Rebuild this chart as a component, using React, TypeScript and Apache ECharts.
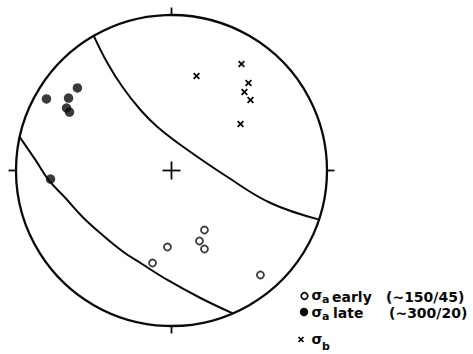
import React, { useEffect, useRef } from "react";
import * as echarts from "echarts";

// Stereonet coordinates: unit circle, x = east, y = north.
const sigmaEarly: [number, number][] = [
  [-0.122, -0.595],
  [-0.026, -0.492],
  [0.212, -0.383],
  [0.18, -0.453],
  [0.212, -0.505],
  [0.572, -0.672],
];

const sigmaLate: [number, number][] = [
  [-0.804, 0.46],
  [-0.662, 0.466],
  [-0.605, 0.531],
  [-0.675, 0.402],
  [-0.656, 0.376],
  [-0.778, -0.055],
];

const sigmaB: [number, number][] = [
  [0.161, 0.608],
  [0.45, 0.685],
  [0.495, 0.563],
  [0.469, 0.505],
  [0.508, 0.453],
  [0.444, 0.299],
];

// Traces of the two bounding circles across the net
const boundaryUpper: [number, number][] = [
  [-0.5, 0.866],
  [-0.412, 0.691],
  [-0.315, 0.537],
  [-0.199, 0.389],
  [-0.09, 0.28],
  [0.077, 0.151],
  [0.36, -0.042],
  [0.637, -0.209],
  [0.95, -0.316],
];

const boundaryLower: [number, number][] = [
  [-0.976, 0.215],
  [-0.875, 0.068],
  [-0.791, -0.061],
  [-0.682, -0.177],
  [-0.572, -0.299],
  [-0.444, -0.415],
  [-0.309, -0.524],
  [-0.199, -0.595],
  [-0.026, -0.704],
  [0.186, -0.82],
  [0.394, -0.919],
];

// Compass ticks (N, E, S, W) on the primitive circle
const tickDirections: [number, number][] = [
  [0, 1],
  [1, 0],
  [0, -1],
  [-1, 0],
];

const legendLabels = ["early", "late"];
const legendTrends = ["(~150/45)", "(~300/20)"];

const INK = "#0a0a0a";
const FONT = "DejaVu Sans";

export default function App() {
  const ref = useRef<HTMLDivElement>(null);

  useEffect(() => {
    const chart = echarts.init(ref.current!, null, { renderer: "svg" });

    const txt = (x: number, y: number, text: string, size: number) => ({
      type: "text",
      x,
      y,
      style: {
        text,
        fill: INK,
        font: `bold ${size}px "${FONT}"`,
        align: "left",
        verticalAlign: "middle",
      },
    });

    const legend: any[] = [
      // row 1: open circle
      {
        type: "circle",
        shape: { cx: 304.5, cy: 296, r: 3.3 },
        style: { fill: "#fff", stroke: INK, lineWidth: 1.7 },
      },
      txt(311.5, 294.5, "σ", 14),
      txt(322, 299.5, "a", 11),
      txt(332, 297, legendLabels[0], 14),
      txt(386, 297, legendTrends[0], 14),
      // row 2: filled circle
      {
        type: "circle",
        shape: { cx: 304, cy: 312, r: 4.2 },
        style: { fill: INK },
      },
      txt(311.5, 311.5, "σ", 14),
      txt(322, 316.5, "a", 11),
      txt(333, 313, legendLabels[1], 14),
      txt(389, 313, legendTrends[1], 14),
      // row 3: cross
      {
        type: "line",
        shape: { x1: 298.5, y1: 337, x2: 303.5, y2: 342 },
        style: { stroke: INK, lineWidth: 1.7 },
      },
      {
        type: "line",
        shape: { x1: 303.5, y1: 337, x2: 298.5, y2: 342 },
        style: { stroke: INK, lineWidth: 1.7 },
      },
      txt(311.5, 339, "σ", 14),
      txt(322, 346.5, "b", 11),
    ];

    chart.setOption({
      animation: false,
      backgroundColor: "#fff",
      grid: { left: 16, top: 15, width: 311, height: 311 },
      xAxis: { type: "value", min: -1, max: 1, show: false },
      yAxis: { type: "value", min: -1, max: 1, show: false },
      series: [
        {
          type: "custom",
          name: "net",
          coordinateSystem: "cartesian2d",
          clip: false,
          silent: true,
          data: [[0, 0]],
          renderItem: (_params: any, api: any) => {
            const c = api.coord([0, 0]);
            const r = api.coord([1, 0])[0] - c[0];
            const children: any[] = [
              {
                type: "circle",
                shape: { cx: c[0], cy: c[1], r },
                style: { fill: "none", stroke: INK, lineWidth: 2.3 },
              },
            ];
            tickDirections.forEach(([dx, dy]) => {
              const a = api.coord([dx, dy]);
              const b = api.coord([dx * 1.048, dy * 1.048]);
              children.push({
                type: "line",
                shape: { x1: a[0], y1: a[1], x2: b[0], y2: b[1] },
                style: { stroke: INK, lineWidth: 1.8 },
              });
            });
            const h = 0.058;
            const l = api.coord([-h, 0]);
            const rr = api.coord([h, 0]);
            const t = api.coord([0, h]);
            const bb = api.coord([0, -h]);
            children.push(
              {
                type: "line",
                shape: { x1: l[0], y1: l[1], x2: rr[0], y2: rr[1] },
                style: { stroke: INK, lineWidth: 1.8 },
              },
              {
                type: "line",
                shape: { x1: t[0], y1: t[1], x2: bb[0], y2: bb[1] },
                style: { stroke: INK, lineWidth: 1.8 },
              }
            );
            return { type: "group", children };
          },
        },
        {
          type: "line",
          data: boundaryUpper,
          smooth: 0.4,
          showSymbol: false,
          silent: true,
          lineStyle: { color: INK, width: 2 },
        },
        {
          type: "line",
          data: boundaryLower,
          smooth: 0.4,
          showSymbol: false,
          silent: true,
          lineStyle: { color: INK, width: 2 },
        },
        {
          type: "scatter",
          name: "σa early",
          data: sigmaEarly,
          symbol: "circle",
          symbolSize: 7,
          itemStyle: { color: "#fff", borderColor: INK, borderWidth: 1.8 },
        },
        {
          type: "scatter",
          name: "σa late",
          data: sigmaLate,
          symbol: "circle",
          symbolSize: 9.5,
          itemStyle: { color: INK },
        },
        {
          type: "custom",
          name: "σb",
          coordinateSystem: "cartesian2d",
          clip: false,
          data: sigmaB,
          renderItem: (_params: any, api: any) => {
            const p = api.coord([api.value(0), api.value(1)]);
            const s = 2.9;
            return {
              type: "group",
              children: [
                {
                  type: "line",
                  shape: { x1: p[0] - s, y1: p[1] - s, x2: p[0] + s, y2: p[1] + s },
                  style: { stroke: INK, lineWidth: 1.8 },
                },
                {
                  type: "line",
                  shape: { x1: p[0] + s, y1: p[1] - s, x2: p[0] - s, y2: p[1] + s },
                  style: { stroke: INK, lineWidth: 1.8 },
                },
              ],
            };
          },
        },
      ],
      graphic: legend,
    });

    return () => chart.dispose();
  }, []);

  return (
    <div
      ref={ref}
      style={{ position: "absolute", left: 0, top: 0, width: 473, height: 354 }}
    />
  );
}
